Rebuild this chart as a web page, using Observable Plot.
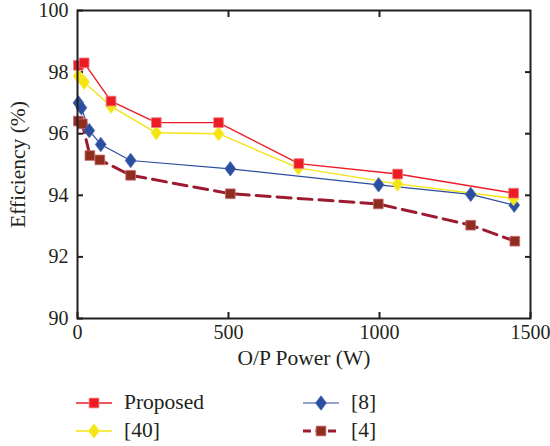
<!DOCTYPE html>
<html>
<head>
<meta charset="utf-8">
<script src="https://cdn.jsdelivr.net/npm/d3@7"></script>
<script src="https://cdn.jsdelivr.net/npm/@observablehq/plot@0.6"></script>
<style>
  html, body { margin: 0; padding: 0; background: #fff; }
  #wrap { position: relative; width: 550px; height: 446px; font-family: "Liberation Serif", "DejaVu Serif", serif; color: #231f20; }
  .leg { position: absolute; display: flex; align-items: center; font-size: 21.5px; line-height: 1; }
  .leg svg { margin-right: 12px; }
</style>
</head>
<body>
<div id="wrap"><div id="chart"></div></div>
<script>
const seriesNames = ["Proposed", "[40]", "[8]", "[4]"];
const powerProposed = [3, 22, 111, 261, 467, 733, 1060, 1444];
const effProposed   = [98.22, 98.30, 97.06, 96.36, 96.36, 95.03, 94.69, 94.07];
const power40 = [3, 22, 111, 261, 467, 731, 1060, 1444];
const eff40   = [97.87, 97.67, 96.89, 96.03, 96.00, 94.89, 94.37, 93.90];
const power8 = [3, 13, 39, 77, 176, 506, 997, 1302, 1446];
const eff8   = [97.00, 96.84, 96.10, 95.65, 95.13, 94.86, 94.34, 94.03, 93.68];
const power4 = [3, 16, 41, 74, 176, 506, 996, 1302, 1448];
const eff4   = [96.41, 96.32, 95.29, 95.15, 94.65, 94.05, 93.72, 93.03, 92.51];
const xTicks = [0, 500, 1000, 1500];
const yTicks = [90, 92, 94, 96, 98, 100];

// wider diamond symbol (width ≈ 0.75 × height)
const wideDiamond = {
  draw(context, size) {
    const h = Math.sqrt(size / 1.5);
    const w = h * 0.75;
    context.moveTo(0, -h);
    context.lineTo(w, 0);
    context.lineTo(0, h);
    context.lineTo(-w, 0);
    context.closePath();
  }
};

const styles = {
  "Proposed": {stroke: "#ed1c24", width: 1.4, dash: null, symbol: d3.symbolSquare, fill: "#ed1c24", mstroke: "#f07a82", r: 5.5},
  "[40]": {stroke: "#f4e411", width: 1.4, dash: null, symbol: wideDiamond, fill: "#f4e411", mstroke: "#f7ec50", r: 5.0},
  "[8]": {stroke: "#2b4ea0", width: 1.2, dash: null, symbol: wideDiamond, fill: "#2b4ea0", mstroke: "#4a68b0", r: 5.0},
  "[4]": {stroke: "#9c1b30", width: 3, dash: "14,7", symbol: d3.symbolSquare, fill: "#8f2d1f", mstroke: "#c8707a", r: 5.5}
};

function rows(xs, ys, name) { return xs.map((x, i) => ({power: x, eff: ys[i], series: name})); }
const data = {
  "Proposed": rows(powerProposed, effProposed, "Proposed"),
  "[40]": rows(power40, eff40, "[40]"),
  "[8]": rows(power8, eff8, "[8]"),
  "[4]": rows(power4, eff4, "[4]")
};

const ink = "#231f20";
const marks = [];
for (const name of ["[4]", "[8]", "[40]", "Proposed"]) {
  const s = styles[name];
  marks.push(Plot.line(data[name], {x: "power", y: "eff", stroke: s.stroke, strokeWidth: s.width, strokeDasharray: s.dash}));
}
for (const name of ["[4]", "[8]", "[40]", "Proposed"]) {
  const s = styles[name];
  marks.push(Plot.dot(data[name], {x: "power", y: "eff", symbol: s.symbol, r: s.r, fill: s.fill, stroke: s.mstroke, strokeWidth: 0.8}));
}

const fmt = d3.format("d");
const chart = Plot.plot({
  width: 550,
  height: 376,
  marginLeft: 77,
  marginRight: 20,
  marginTop: 10,
  marginBottom: 58,
  style: {fontFamily: "'Liberation Serif', serif", fontSize: "20px", color: ink, background: "#fff", overflow: "visible"},
  x: {domain: [0, 1500]},
  y: {domain: [90, 100]},
  marks: [
    Plot.axisX(xTicks, {anchor: "bottom", tickSize: -6, tickPadding: 12, tickFormat: fmt, stroke: ink, strokeWidth: 2, fill: ink, fontSize: 20, label: null}),
    Plot.axisX(xTicks.slice(1, -1), {anchor: "top", tickSize: -6, text: null, stroke: ink, strokeWidth: 2, label: null}),
    Plot.axisY(yTicks, {anchor: "left", tickSize: -6, tickPadding: 15, tickFormat: fmt, stroke: ink, strokeWidth: 2, fill: ink, fontSize: 20, label: null}),
    Plot.axisY(yTicks.slice(1, -1), {anchor: "right", tickSize: -6, text: null, stroke: ink, strokeWidth: 2, label: null}),
    Plot.text(["O/P Power (W)"], {frameAnchor: "bottom", dy: 46, fontSize: 21.5, fill: ink}),
    Plot.text(["Efficiency (%)"], {frameAnchor: "left", textAnchor: "middle", dx: -59, rotate: -90, fontSize: 21.5, fill: ink}),
    ...marks,
    Plot.frame({stroke: ink, strokeWidth: 2})
  ]
});
document.getElementById("chart").appendChild(chart);

// Legend
const legendPos = {
  "Proposed": {left: 76, top: 391},
  "[40]": {left: 76, top: 419},
  "[8]": {left: 303, top: 391},
  "[4]": {left: 303, top: 419}
};
const wrap = document.getElementById("wrap");
for (const name of seriesNames) {
  const s = styles[name];
  const div = document.createElement("div");
  div.className = "leg";
  div.style.left = legendPos[name].left + "px";
  div.style.top = legendPos[name].top + "px";
  const sw = d3.create("svg").attr("width", 36).attr("height", 24);
  sw.append("line").attr("x1", 0).attr("x2", 36).attr("y1", 12).attr("y2", 12)
    .attr("stroke", s.stroke).attr("stroke-width", s.width)
    .attr("stroke-dasharray", s.dash ? "8,4.5" : null);
  sw.append("path").attr("transform", "translate(18,12)")
    .attr("d", d3.symbol(s.symbol, Math.PI * s.r * s.r)())
    .attr("fill", s.fill).attr("stroke", s.mstroke).attr("stroke-width", 0.8);
  div.appendChild(sw.node());
  const span = document.createElement("span");
  span.textContent = name;
  div.appendChild(span);
  wrap.appendChild(div);
}
</script>
</body>
</html>
